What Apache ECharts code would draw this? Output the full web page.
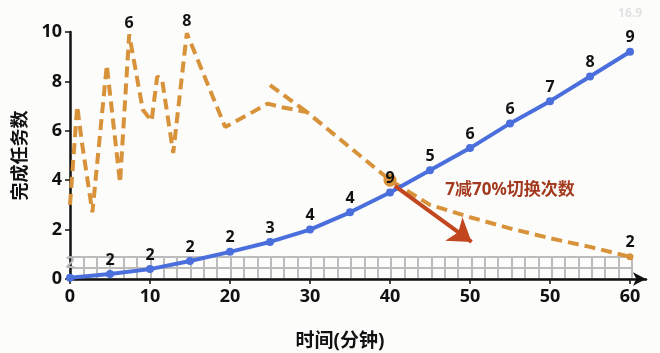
<!DOCTYPE html>
<html>
<head>
<meta charset="utf-8">
<script src="https://cdn.jsdelivr.net/npm/echarts@6/dist/echarts.min.js"></script>
<style>
  html, body { margin: 0; padding: 0; background: #fcfcfa; }
  #chart { width: 660px; height: 353px; }
</style>
</head>
<body>
<div id="chart"></div>
<script>
// tick labels (the picture really shows 50 twice)
var xTickLabels = ['0', '10', '20', '30', '40', '50', '50', '60'];
var yTickLabels = ['0', '2', '4', '6', '8', '10'];

// blue line: completed tasks
var blueX = [0, 5, 10, 15, 20, 25, 30, 35, 40, 45, 50, 55, 60, 65, 70];
var blueY = [0.05, 0.2, 0.4, 0.73, 1.1, 1.5, 2.0, 2.7, 3.5, 4.4, 5.3, 6.3, 7.2, 8.2, 9.2];
var blueLabels = ['2', '2', '2', '2', '2', '3', '4', '4', '9', '5', '6', '6', '7', '8', '9'];

// orange dashed line: switching
var orangeX = [0, 0.9, 1.5, 2.8, 4.6, 6.25, 7.4, 9.1, 10.2, 10.9, 11.5, 12.9, 14.6, 19.4, 22.5, 24.7, 26.5, 29.6, 40, 45, 50, 55, 60, 65, 70];
var orangeY = [3.0, 7.0, 5.5, 2.7, 8.66, 3.9, 9.9, 6.85, 6.4, 8.2, 8.1, 5.1, 9.95, 6.15, 6.7, 7.1, 6.95, 6.76, 4.0, 3.0, 2.5, 2.05, 1.65, 1.3, 0.9];
var orangeLabels = ['', '', '', '', '', '', '6', '', '', '', '', '', '8', '', '', '', '', '', '', '', '', '', '', '', '2'];
var orangeBranchX = [25, 29.6];
var orangeBranchY = [7.85, 6.76];
var orangeMarkX = 40;

// annotation
var arrowFrom = [40.6, 3.77];
var arrowTo = [50.2, 1.5];
var noteText = '7减70%切换次数';
var notePos = [55, 3.6];

var BLUE = '#4a6fdc';
var ORANGE = '#d8923a';
var FONT = 'Noto Sans, Noto Sans CJK SC, sans-serif';

var chart = echarts.init(document.getElementById('chart'));

var blueData = blueX.map(function (x, i) {
    return {
        value: [x, blueY[i]],
        label: { formatter: blueLabels[i], color: i === 0 ? '#b8b8b8' : '#111' }
    };
});

var last = orangeX.length - 1;
var orangeData = orangeX.map(function (x, i) {
    var item = { value: [x, orangeY[i]] };
    if (x === orangeMarkX) {
        item.symbol = 'circle';
        item.symbolSize = 13;
    } else if (i === last) {
        item.symbol = 'circle';
        item.symbolSize = 7;
    } else if (orangeLabels[i] !== '') {
        // labels on a line hang on its symbols
        item.symbol = 'circle';
        item.symbolSize = 1;
    }
    item.label = { show: orangeLabels[i] !== '', formatter: orangeLabels[i] };
    return item;
});

var branchData = orangeBranchX.map(function (x, i) {
    return [x, orangeBranchY[i]];
});

var option = {
    backgroundColor: '#fcfcfa',
    animation: false,
    textStyle: { fontFamily: FONT },
    graphic: [{
        type: 'text',
        right: 18,
        top: 8,
        style: { text: '16.9', fill: '#e2e2e2', font: 'bold 12px ' + FONT }
    }],
    grid: [
        { left: 70, right: 14, top: 32, bottom: 74, outerBoundsMode: 'none' },
        { left: 70, width: 562, bottom: 74, height: 22, outerBoundsMode: 'none' }
    ],
    xAxis: [{
        type: 'value',
        min: 0,
        max: 72,
        interval: 10,
        name: '时间(分钟)',
        nameLocation: 'middle',
        nameGap: 53,
        nameTextStyle: { fontSize: 19, fontWeight: 'bold', color: '#111', padding: [0, 36, 0, 0] },
        axisLine: { lineStyle: { color: '#111', width: 2.5 }, symbol: ['none', 'arrow'], symbolSize: [10, 13] },
        axisTick: { lineStyle: { color: '#111', width: 1.5 }, length: 5 },
        axisLabel: {
            fontSize: 18, fontWeight: 'bold', color: '#111', margin: 9, showMaxLabel: false,
            formatter: function (v) {
                var k = v / 10;
                return (k === Math.round(k) && k < xTickLabels.length) ? xTickLabels[k] : '';
            }
        },
        splitLine: { show: false }
    }, {
        gridIndex: 1,
        type: 'value',
        min: 0,
        max: 42,
        interval: 1,
        axisLine: { show: false },
        axisTick: { show: false },
        axisLabel: { show: false },
        splitLine: { show: true, lineStyle: { color: '#bcbcbc', width: 2 } }
    }],
    yAxis: [{
        type: 'value',
        min: 0,
        max: 10,
        interval: 2,
        name: '完成任务数',
        nameLocation: 'middle',
        nameGap: 40,
        nameRotate: 90,
        nameTextStyle: { fontSize: 18, fontWeight: 'bold', color: '#111' },
        axisLine: { show: true, lineStyle: { color: '#111', width: 2.5 } },
        axisTick: { show: true, lineStyle: { color: '#111', width: 1.5 }, length: 5 },
        axisLabel: {
            fontSize: 18, fontWeight: 'bold', color: '#111', margin: 8,
            formatter: function (v) { return yTickLabels[Math.round(v / 2)]; }
        },
        splitLine: { show: false }
    }, {
        gridIndex: 1,
        type: 'value',
        min: 0,
        max: 2,
        interval: 1,
        axisLine: { show: false },
        axisTick: { show: false },
        axisLabel: { show: false },
        splitLine: { show: true, lineStyle: { color: '#bcbcbc', width: 2 } }
    }],
    series: [{
        name: 'switch',
        type: 'line',
        data: orangeData,
        symbol: 'none',
        showSymbol: true,
        z: 3,
        itemStyle: { color: ORANGE },
        lineStyle: { color: ORANGE, width: 4, type: [11, 6] },
        label: { position: 'top', distance: 3, fontSize: 16, fontWeight: 'bold', color: '#111' },
        markLine: {
            silent: true,
            symbol: ['none', 'arrow'],
            symbolSize: [22, 22],
            label: { show: false },
            lineStyle: { color: '#c2461f', width: 4, type: 'solid' },
            data: [[{ coord: arrowFrom }, { coord: arrowTo }]]
        },
        markPoint: {
            silent: true,
            symbol: 'circle',
            symbolSize: 1,
            itemStyle: { color: 'rgba(0,0,0,0)' },
            label: { show: true, formatter: noteText, fontSize: 17, fontWeight: 'bold', color: '#a33a1f' },
            data: [{ coord: notePos }]
        }
    }, {
        name: 'switch-branch',
        type: 'line',
        data: branchData,
        symbol: 'none',
        z: 3,
        lineStyle: { color: ORANGE, width: 4, type: [11, 6] }
    }, {
        name: 'tasks',
        type: 'line',
        data: blueData,
        symbol: 'circle',
        symbolSize: 8,
        z: 4,
        itemStyle: { color: BLUE },
        lineStyle: { color: BLUE, width: 4 },
        label: { show: true, position: 'top', distance: 2, fontSize: 16, fontWeight: 'bold' }
    }]
};

chart.setOption(option);
</script>
</body>
</html>
